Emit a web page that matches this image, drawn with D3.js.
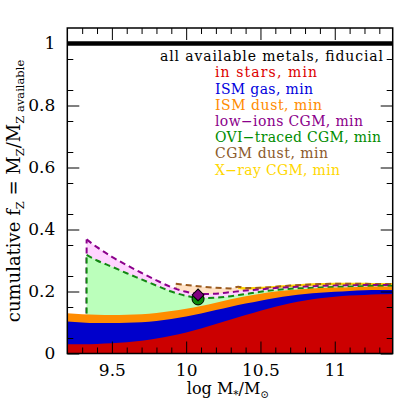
<!DOCTYPE html>
<html lang="en">
<head>
<meta charset="UTF-8" />
<title>Cumulative metal budget</title>
<style>
  body { margin: 0; background: #fff; }
  svg text { font-family: "DejaVu Serif", serif; fill: #000; }
</style>
</head>
<body>
<svg id="chart" width="399" height="399"></svg>
<script src="https://d3js.org/d3.v7.min.js"></script>
<script>
// mass grid (log M*/Msun) for the galaxy components, cumulative tops
const logM    = [9.2, 9.3, 9.4, 9.5, 9.6, 9.7, 9.8, 9.9, 10.0, 10.1, 10.2, 10.3, 10.4, 10.5, 10.6, 10.7, 10.8, 10.9, 11.0, 11.1, 11.2, 11.3, 11.39];
const stars   = [0.030, 0.030, 0.031, 0.033, 0.036, 0.041, 0.048, 0.057, 0.068, 0.081, 0.095, 0.110, 0.124, 0.138, 0.151, 0.162, 0.171, 0.178, 0.183, 0.187, 0.189, 0.191, 0.192];
const ismGas  = [0.103, 0.100, 0.098, 0.098, 0.099, 0.101, 0.105, 0.111, 0.119, 0.129, 0.140, 0.151, 0.161, 0.170, 0.179, 0.186, 0.192, 0.196, 0.199, 0.202, 0.204, 0.205, 0.205];
const ismDust = [0.130, 0.127, 0.125, 0.124, 0.125, 0.127, 0.131, 0.137, 0.144, 0.153, 0.164, 0.175, 0.185, 0.193, 0.200, 0.205, 0.208, 0.211, 0.213, 0.214, 0.215, 0.216, 0.216];

// CGM components (cumulative tops)
const cgmMass = [9.33, 9.4, 9.5, 9.6, 9.7, 9.8, 9.9, 10.0, 10.1, 10.2, 10.3, 10.4, 10.5, 10.6, 10.7, 10.8, 10.9, 11.0, 11.1, 11.2, 11.3, 11.39];
const ovi     = [0.318, 0.300, 0.280, 0.259, 0.239, 0.219, 0.200, 0.186, 0.179, 0.180, 0.185, 0.192, 0.199, 0.205, 0.209, 0.211, 0.213, 0.215, 0.216, 0.217, 0.218, 0.218];
const lowIons = [0.368, 0.343, 0.312, 0.285, 0.260, 0.236, 0.214, 0.199, 0.192, 0.193, 0.198, 0.203, 0.207, 0.211, 0.214, 0.216, 0.218, 0.219, 0.220, 0.221, 0.221, 0.221];
const dustMass = [9.93, 10.0, 10.1, 10.2, 10.3, 10.35, 10.4, 10.5, 10.6, 10.7, 10.8, 10.9, 11.0, 11.1, 11.2, 11.3, 11.39];
const cgmDust  = [0.225, 0.221, 0.216, 0.212, 0.210, 0.215, 0.211, 0.212, 0.215, 0.219, 0.222, 0.224, 0.225, 0.225, 0.225, 0.224, 0.224];
const xrayMass = [10.35, 10.4, 10.5, 10.6, 10.7, 10.8, 10.9, 11.0, 11.1, 11.2, 11.3, 11.39];
const xray     = [0.213, 0.210, 0.211, 0.214, 0.218, 0.221, 0.223, 0.224, 0.224, 0.224, 0.223, 0.223];

// single-galaxy points
const pointMass = 10.08;
const oviPoint = 0.176;
const lowIonPoint = 0.189;

const fiducial = 1;

const xTicks = [9.5, 10, 10.5, 11];
const xTickLabels = ["9.5", "10", "10.5", "11"];
const yTicks = [0, 0.2, 0.4, 0.6, 0.8, 1];
const yTickLabels = ["0", "0.2", "0.4", "0.6", "0.8", "1"];

const legendLabels = ["in stars, min", "ISM gas, min", "ISM dust, min", "low\u2212ions CGM, min",
  "OVI\u2212traced CGM, min", "CGM dust, min", "X\u2212ray CGM, min"];
const legendColors = ["#dd0000", "#0000dd", "#ff8c00", "#8b008b", "#008c00", "#8b5a2b", "#ffd700"];
const legendWidths = [102, 98, 107, 148, 166, 113, 125];

const svg = d3.select("#chart");
const x = d3.scaleLinear().domain([9.2, 11.39]).range([67.3, 392.7]);
const y = d3.scaleLinear().domain([0, 1.05]).range([353.5, 28]);

const plot = svg.append("g");
svg.append("clipPath").attr("id", "clip")
  .append("rect").attr("x", x(9.2)).attr("y", y(1.05))
  .attr("width", x(11.39) - x(9.2)).attr("height", y(0) - y(1.05));
plot.attr("clip-path", "url(#clip)");

const curve = d3.curveMonotoneX;
function band(xs, hi) {
  return d3.area().curve(curve)
    .x((d, i) => x(xs[i])).y0(y(0)).y1(d => y(d))(hi);
}
function line(xs, vs) {
  return d3.line().curve(curve).x((d, i) => x(xs[i])).y(d => y(d))(vs);
}
function dashed(xs, vs, color) {
  // vertical edge at start, drawn down to 0 and covered by later layers
  plot.append("path")
    .attr("d", d3.line()([[x(xs[0]), y(0)], [x(xs[0]), y(vs[0])]]))
    .attr("fill", "none").attr("stroke", color).attr("stroke-width", 2)
    .attr("stroke-dasharray", "6,4");
  plot.append("path").attr("d", line(xs, vs))
    .attr("fill", "none").attr("stroke", color).attr("stroke-width", 2)
    .attr("stroke-dasharray", "6,4");
}

// CGM layers, painted top-down
plot.append("path").attr("d", band(dustMass, cgmDust)).attr("fill", "#ffe2c6");
plot.append("path").attr("d", line(xrayMass, xray))
  .attr("fill", "none").attr("stroke", "#ffd700").attr("stroke-width", 2.5);
dashed(dustMass, cgmDust, "#9a5a1e");
plot.append("path").attr("d", band(cgmMass, lowIons)).attr("fill", "#ffd4ff");
dashed(cgmMass, lowIons, "#8b008b");
plot.append("path").attr("d", band(cgmMass, ovi)).attr("fill", "#bbffbb");
dashed(cgmMass, ovi, "#118811");

// galaxy components
plot.append("path").attr("d", band(logM, ismDust)).attr("fill", "#ff8c00");
plot.append("path").attr("d", band(logM, ismGas)).attr("fill", "#0000cc");
plot.append("path").attr("d", band(logM, stars)).attr("fill", "#cc0000");

// points
svg.append("circle").attr("cx", x(pointMass)).attr("cy", y(oviPoint)).attr("r", 6)
  .attr("fill", "#0a8a0a").attr("stroke", "#000").attr("stroke-width", 1);
svg.append("path").attr("d", d3.symbol(d3.symbolSquare, 70)())
  .attr("transform", `translate(${x(pointMass)},${y(lowIonPoint)}) rotate(45)`)
  .attr("fill", "#800080").attr("stroke", "#000").attr("stroke-width", 1);

// fiducial line
svg.append("line").attr("x1", x(9.2)).attr("x2", x(11.39))
  .attr("y1", y(fiducial)).attr("y2", y(fiducial))
  .attr("stroke", "#000").attr("stroke-width", 4.5);

// axes with inward ticks on all sides
const xMinor = d3.range(9.3, 11.35, 0.1).filter(v => Math.abs(v * 2 - Math.round(v * 2)) > 0.01);
const yMinor = d3.range(0.05, 1.05, 0.1);
function axes(gen, scale, pos, major, labels, minor, showLabels, pad) {
  const g = svg.append("g").attr("transform", pos);
  g.call(gen(scale).tickValues(minor).tickSize(-6).tickFormat(""));
  const m = svg.append("g").attr("transform", pos);
  m.call(gen(scale).tickValues(major).tickSize(-12).tickPadding(pad)
    .tickFormat((d, i) => showLabels ? labels[i] : ""));
  g.select(".domain").remove();
  m.select(".domain").remove();
  m.selectAll("text").style("font-family", "DejaVu Serif").style("font-size", "17px");
  svg.selectAll(".tick line").attr("stroke", "#000");
}
axes(d3.axisBottom, x, `translate(0,${y(0)})`, xTicks, xTickLabels, xMinor, true, 10);
axes(d3.axisTop, x, `translate(0,${y(1.05)})`, xTicks, xTickLabels, xMinor, false, 10);
axes(d3.axisLeft, y, `translate(${x(9.2)},0)`, yTicks, yTickLabels, yMinor, true, 12);
axes(d3.axisRight, y, `translate(${x(11.39)},0)`, yTicks, yTickLabels, yMinor, false, 12);

svg.append("rect").attr("x", x(9.2)).attr("y", y(1.05))
  .attr("width", x(11.39) - x(9.2)).attr("height", y(0) - y(1.05))
  .attr("fill", "none").attr("stroke", "#000").attr("stroke-width", 1.5);

// legend
svg.append("text").attr("x", 160).attr("y", 61).attr("font-size", 14)
  .attr("textLength", 223).attr("lengthAdjust", "spacing")
  .text("all available metals, fiducial");
legendLabels.forEach((t, i) => {
  svg.append("text").attr("x", 215).attr("y", 77.3 + i * 16.2).attr("font-size", 14)
    .attr("textLength", legendWidths[i]).attr("lengthAdjust", "spacing")
    .style("fill", legendColors[i]).text(t);
});

// axis titles
const xl = svg.append("text").attr("x", 228).attr("y", 394)
  .attr("text-anchor", "middle").attr("font-size", 16);
xl.append("tspan").text("log M");
xl.append("tspan").attr("font-size", 10.5).attr("dy", 4).text("*");
xl.append("tspan").attr("dy", -4).text("/M");
xl.append("tspan").attr("font-size", 10.5).attr("dy", 4).text("\u2299");

const yl = svg.append("text").attr("transform", "translate(20,191) rotate(-90)")
  .attr("text-anchor", "middle").attr("font-size", 18);
yl.append("tspan").text("cumulative f");
yl.append("tspan").attr("font-size", 11.5).attr("dy", 4).text("Z");
yl.append("tspan").attr("dy", -4).text(" = M");
yl.append("tspan").attr("font-size", 11.5).attr("dy", 4).text("Z");
yl.append("tspan").attr("dy", -4).text("/M");
yl.append("tspan").attr("font-size", 11.5).attr("dy", 4).text("Z available");
</script>
</body>
</html>
